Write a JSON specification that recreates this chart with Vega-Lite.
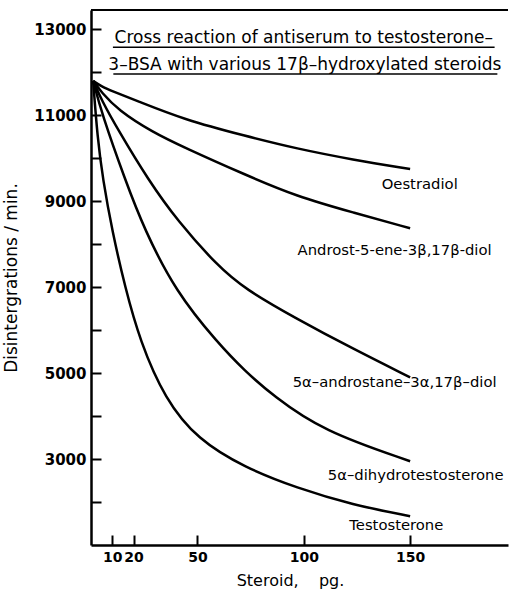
{
  "$schema": "https://vega.github.io/schema/vega-lite/v6.json",
  "width": 417,
  "height": 535,
  "padding": {"left": 91, "top": 10, "right": 2, "bottom": 44},
  "autosize": {"type": "none"},
  "background": "white",
  "config": {
    "view": {"stroke": null},
    "font": "DejaVu Sans",
    "axis": {"grid": false, "domainColor": "black", "tickColor": "black", "labelColor": "black", "titleColor": "black"}
  },
  "datasets": {
    "curves": [
      {"steroid": "Oestradiol", "pg": 1, "dpm": 11800},
      {"steroid": "Oestradiol", "pg": 5, "dpm": 11670},
      {"steroid": "Oestradiol", "pg": 10, "dpm": 11560},
      {"steroid": "Oestradiol", "pg": 20.7, "dpm": 11356},
      {"steroid": "Oestradiol", "pg": 44.1, "dpm": 10893},
      {"steroid": "Oestradiol", "pg": 72.3, "dpm": 10523},
      {"steroid": "Oestradiol", "pg": 96.7, "dpm": 10222},
      {"steroid": "Oestradiol", "pg": 123, "dpm": 9967},
      {"steroid": "Oestradiol", "pg": 150, "dpm": 9750},
      {"steroid": "Androst", "pg": 1, "dpm": 11800},
      {"steroid": "Androst", "pg": 5, "dpm": 11530},
      {"steroid": "Androst", "pg": 12.7, "dpm": 11125},
      {"steroid": "Androst", "pg": 28.6, "dpm": 10616},
      {"steroid": "Androst", "pg": 44.1, "dpm": 10245},
      {"steroid": "Androst", "pg": 72.3, "dpm": 9620},
      {"steroid": "Androst", "pg": 96.7, "dpm": 9111},
      {"steroid": "Androst", "pg": 123, "dpm": 8740},
      {"steroid": "Androst", "pg": 150, "dpm": 8370},
      {"steroid": "Androstane", "pg": 1, "dpm": 11800},
      {"steroid": "Androstane", "pg": 5, "dpm": 11350},
      {"steroid": "Androstane", "pg": 12.7, "dpm": 10662},
      {"steroid": "Androstane", "pg": 26.8, "dpm": 9504},
      {"steroid": "Androstane", "pg": 40.8, "dpm": 8532},
      {"steroid": "Androstane", "pg": 59.6, "dpm": 7490},
      {"steroid": "Androstane", "pg": 72.3, "dpm": 6958},
      {"steroid": "Androstane", "pg": 96.7, "dpm": 6263},
      {"steroid": "Androstane", "pg": 123, "dpm": 5569},
      {"steroid": "Androstane", "pg": 150, "dpm": 4900},
      {"steroid": "DHT", "pg": 1, "dpm": 11800},
      {"steroid": "DHT", "pg": 5, "dpm": 11050},
      {"steroid": "DHT", "pg": 16, "dpm": 9504},
      {"steroid": "DHT", "pg": 25, "dpm": 8350},
      {"steroid": "DHT", "pg": 39.9, "dpm": 6888},
      {"steroid": "DHT", "pg": 59.6, "dpm": 5700},
      {"steroid": "DHT", "pg": 72.3, "dpm": 5050},
      {"steroid": "DHT", "pg": 85.4, "dpm": 4481},
      {"steroid": "DHT", "pg": 108.9, "dpm": 3650},
      {"steroid": "DHT", "pg": 150, "dpm": 2950},
      {"steroid": "Testosterone", "pg": 1, "dpm": 11800},
      {"steroid": "Testosterone", "pg": 3, "dpm": 10500},
      {"steroid": "Testosterone", "pg": 5.6, "dpm": 9500},
      {"steroid": "Testosterone", "pg": 10, "dpm": 8300},
      {"steroid": "Testosterone", "pg": 16, "dpm": 7000},
      {"steroid": "Testosterone", "pg": 23, "dpm": 5750},
      {"steroid": "Testosterone", "pg": 34.7, "dpm": 4400},
      {"steroid": "Testosterone", "pg": 50.2, "dpm": 3450},
      {"steroid": "Testosterone", "pg": 72.3, "dpm": 2800},
      {"steroid": "Testosterone", "pg": 96.7, "dpm": 2328},
      {"steroid": "Testosterone", "pg": 123, "dpm": 1934},
      {"steroid": "Testosterone", "pg": 150, "dpm": 1670}
    ],
    "labels": [
      {"label": "Oestradiol", "pg": 154.5, "dpm": 9389},
      {"label": "Androst-5-ene-3β,17β-diol", "pg": 142.7, "dpm": 7838},
      {"label": "5α–androstane–3α,17β–diol", "pg": 142.7, "dpm": 4759},
      {"label": "5α–dihydrotestosterone", "pg": 152.6, "dpm": 2606},
      {"label": "Testosterone", "pg": 143.5, "dpm": 1449}
    ],
    "titleLines": [
      {"line": "Cross reaction of antiserum to testosterone–", "pg": 100, "dpm": 12790},
      {"line": "3–BSA with various 17β–hydroxylated steroids", "pg": 100.5, "dpm": 12167}
    ],
    "underlines": [
      {"from": 10.3, "to": 189.7, "dpm": 12583},
      {"from": 10.5, "to": 191, "dpm": 11958}
    ],
    "frameTop": [
      {"dpm": 13450}
    ]
  },
  "layer": [
    {
      "data": {"name": "curves"},
      "mark": {"type": "line", "interpolate": "basis", "color": "black", "strokeWidth": 2.5},
      "encoding": {
        "x": {"field": "pg", "type": "quantitative",
          "scale": {"domain": [0, 196], "nice": false, "zero": false},
          "axis": {"values": [10, 20, 50, 100, 150], "tickSize": -10, "tickWidth": 2, "domainWidth": 2.5,
            "labelFontSize": 14, "labelFontWeight": "bold", "labelPadding": 15, "labelFlush": false,
            "title": "Steroid,\u00a0\u00a0\u00a0\u00a0pg.", "titleFontSize": 16, "titleFontWeight": "normal", "titlePadding": 8,
            "titleX": 199, "titleAlign": "center"}},
        "y": {"field": "dpm", "type": "quantitative",
          "scale": {"domain": [1000, 13450], "nice": false, "zero": false},
          "axis": {"values": [2000, 3000, 4000, 5000, 6000, 7000, 8000, 9000, 10000, 11000, 12000, 13000],
            "labelExpr": "datum.value % 2000 == 1000 ? format(datum.value, 'd') : ''",
            "tickSize": -10, "tickWidth": 2, "domainWidth": 2.5,
            "labelFontSize": 15, "labelFontWeight": "bold", "labelPadding": 15, "labelFlush": false,
            "title": "Disintergrations / min.", "titleFontSize": 17, "titleFontWeight": "normal", "titlePadding": 13}},
        "detail": {"field": "steroid"}
      }
    },
    {
      "data": {"name": "frameTop"},
      "mark": {"type": "rule", "color": "black", "strokeWidth": 2},
      "encoding": {
        "y": {"field": "dpm", "type": "quantitative"}
      }
    },
    {
      "data": {"name": "labels"},
      "mark": {"type": "text", "color": "black", "fontSize": 14.8},
      "encoding": {
        "x": {"field": "pg", "type": "quantitative"},
        "y": {"field": "dpm", "type": "quantitative"},
        "text": {"field": "label"}
      }
    },
    {
      "data": {"name": "titleLines"},
      "mark": {"type": "text", "color": "black", "fontSize": 17},
      "encoding": {
        "x": {"field": "pg", "type": "quantitative"},
        "y": {"field": "dpm", "type": "quantitative"},
        "text": {"field": "line"}
      }
    },
    {
      "data": {"name": "underlines"},
      "mark": {"type": "rule", "color": "black", "strokeWidth": 1.5},
      "encoding": {
        "x": {"field": "from", "type": "quantitative"},
        "x2": {"field": "to"},
        "y": {"field": "dpm", "type": "quantitative"}
      }
    }
  ]
}
